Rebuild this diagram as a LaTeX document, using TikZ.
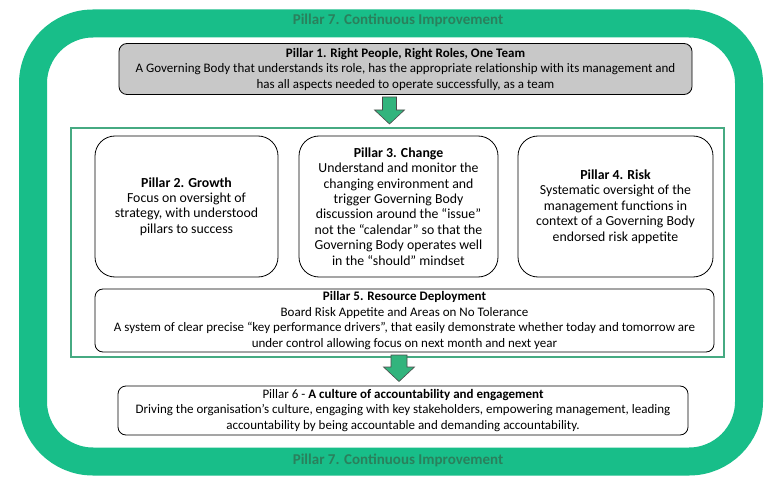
\documentclass[tikz,border=0pt]{standalone}
\usepackage{fontspec}
\setmainfont{Carlito}
\definecolor{ringgreen}{RGB}{24,190,137}
\definecolor{ptxt}{RGB}{42,128,92}
\definecolor{innergreen}{RGB}{70,170,130}
\definecolor{arrowgreen}{RGB}{50,180,125}
\definecolor{boxgray}{RGB}{200,200,200}
\begin{document}
\begin{tikzpicture}[x=1pt,y=-1pt,
  every node/.style={font=\fontsize{13}{15.5}\selectfont, align=center, inner sep=0pt},
  bigtext/.style={font=\fontsize{13.8}{15.4}\selectfont},
  bigbox/.style={draw=black, line width=0.8pt, rounded corners=20pt},
  flatbox/.style={draw=black, line width=0.8pt, rounded corners=8pt},
  ptitle/.style={font=\fontsize{15}{15}\selectfont\bfseries, text=ptxt},
  downarrow/.style={fill=arrowgreen, draw=black!70, line width=0.6pt}]
\useasboundingbox (0,0) rectangle (775,486);
\fill[white] (0,0) rectangle (775,486);
% outer ring
\draw[ringgreen, line width=28pt, rounded corners=60pt] (33,23.5) rectangle (749,461.5);
\node[ptitle] (p7top) at (398,20) {Pillar 7. Continuous Improvement};
\node[ptitle] (p7bot) at (398,460) {Pillar 7. Continuous Improvement};
% inner rectangle
\node[draw=innergreen, line width=2pt, minimum width=653pt, minimum height=229pt] (inner) at (397.5,242.5) {};
% pillar 1
\node[flatbox, fill=boxgray, minimum width=573pt, minimum height=51pt] (p1) at (405.5,69) {};
\node (p1t) at (p1.center) {\textbf{Pillar 1. Right People, Right Roles, One Team}\\A Governing Body that understands its role, has the appropriate relationship with its management and\\has all aspects needed to operate successfully, as a team};
% pillar 2-4
\node[bigbox, minimum width=183pt, minimum height=141pt] (p2) at (186.5,206.5) {};
\node[bigtext] (p2t) at (p2.center) {\textbf{Pillar 2. Growth}\\Focus on oversight of\\strategy, with understood\\pillars to success};
\node[bigbox, minimum width=199pt, minimum height=141pt] (p3) at (398.5,206.5) {};
\node[bigtext] (p3t) at (p3.center) {\textbf{Pillar 3. Change}\\Understand and monitor the\\changing environment and\\trigger Governing Body\\discussion around the “issue”\\not the “calendar” so that the\\Governing Body operates well\\in the “should” mindset};
\node[bigbox, minimum width=195pt, minimum height=141pt] (p4) at (615.5,206.5) {};
\node[bigtext] (p4t) at (p4.center) {\textbf{Pillar 4. Risk}\\Systematic oversight of the\\management functions in\\context of a Governing Body\\endorsed risk appetite};
% pillar 5
\node[flatbox, fill=white, minimum width=619pt, minimum height=63pt] (p5) at (404.5,320.5) {};
\node (p5t) at (p5.center) {\textbf{Pillar 5. Resource Deployment}\\Board Risk Appetite and Areas on No Tolerance\\A system of clear precise “key performance drivers”, that easily demonstrate whether today and tomorrow are\\under control allowing focus on next month and next year};
% pillar 6
\node[flatbox, fill=white, minimum width=570pt, minimum height=49pt] (p6) at (403,410.5) {};
\node (p6t) at (p6.center) {Pillar 6 - \textbf{A culture of accountability and engagement}\\Driving the organisation’s culture, engaging with key stakeholders, empowering management, leading\\accountability by being accountable and demanding accountability.};
% arrows
\draw[downarrow] (382.5,97) -- (396.5,97) -- (396.5,110) -- (404.5,110) -- (389.5,124) -- (374.5,110) -- (382.5,110) -- cycle;
\draw[downarrow] (391,355) -- (407,355) -- (407,367) -- (414.5,367) -- (399,381.5) -- (383.5,367) -- (391,367) -- cycle;
\end{tikzpicture}
\end{document}
